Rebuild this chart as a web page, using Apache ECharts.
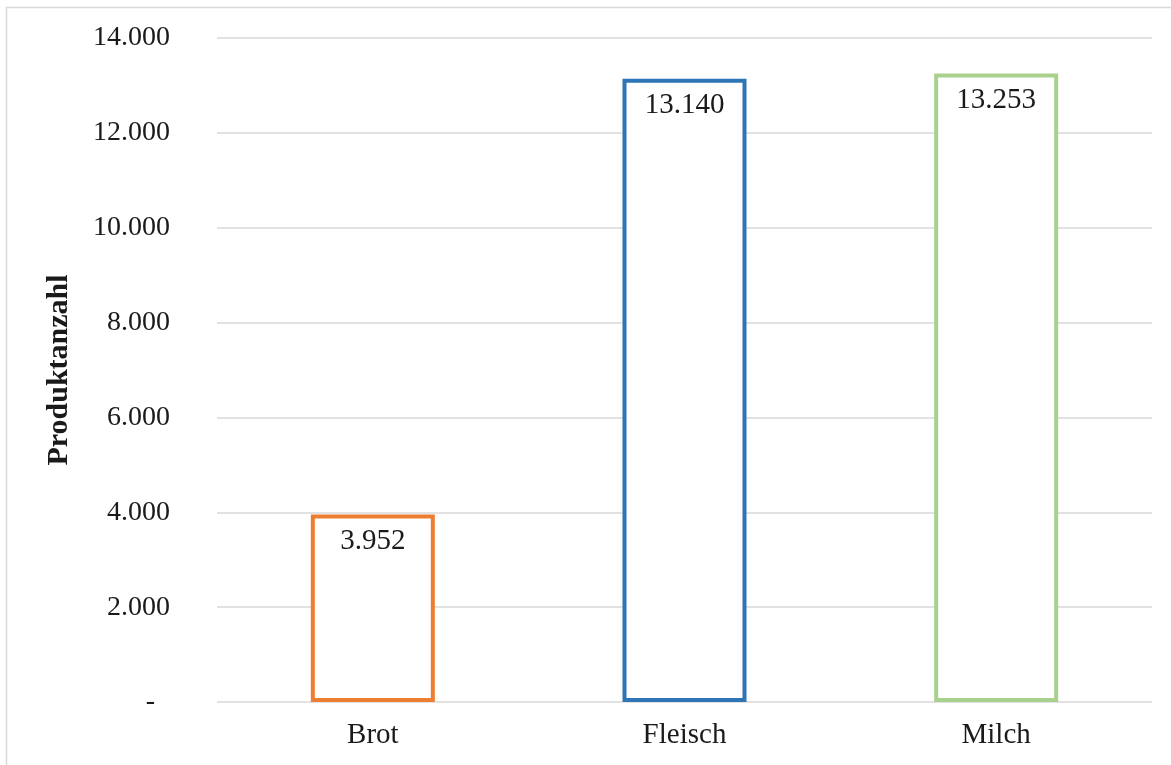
<!DOCTYPE html>
<html>
<head>
<meta charset="utf-8">
<script src="https://cdn.jsdelivr.net/npm/echarts@6/dist/echarts.min.js"></script>
<style>
  html, body { margin: 0; padding: 0; background: #fff; }
  #chart { width: 1171px; height: 765px; }
</style>
</head>
<body>
<div id="chart"></div>
<script>
// Product counts per category
const categories = ['Brot', 'Fleisch', 'Milch'];
const counts = [3952, 13140, 13253];
const barColors = ['#ED7D31', '#2E75B6', '#A9D18E'];
const axisTitle = 'Produktanzahl';

// German thousands separator, "-" for zero
function fmt(v) {
  return String(Math.round(v)).replace(/\B(?=(\d{3})+(?!\d))/g, '.');
}

const serif = '"Liberation Serif", "Times New Roman", serif';

const chart = echarts.init(document.getElementById('chart'), null, { renderer: 'canvas' });

chart.setOption({
  animation: false,
  backgroundColor: '#fff',
  graphic: [{
    type: 'rect',
    z: -10,
    shape: { x: 6.5, y: 7.5, width: 1300, height: 900 },
    style: { fill: 'none', stroke: '#D9D9D9', lineWidth: 1.5 }
  }],
  grid: { left: 217, right: 19, top: 38, bottom: 63 },
  xAxis: {
    type: 'category',
    data: categories,
    axisLine: { show: false },
    axisTick: { show: false },
    axisLabel: { color: '#1a1a1a', fontFamily: serif, fontSize: 29, margin: 19 }
  },
  yAxis: {
    type: 'value',
    min: 0,
    max: 14000,
    interval: 2000,
    name: axisTitle,
    nameLocation: 'middle',
    nameGap: 143,
    nameTextStyle: { color: '#1a1a1a', fontFamily: serif, fontSize: 30, fontWeight: 'bold' },
    axisLine: { show: false },
    axisTick: { show: false },
    splitLine: { lineStyle: { color: '#D9D9D9', width: 1.5 } },
    axisLabel: {
      color: '#1a1a1a',
      fontFamily: serif,
      fontSize: 28,
      margin: 47,
      formatter: v => (v === 0 ? '{z|-}' : fmt(v)),
      rich: { z: { fontFamily: serif, fontSize: 28, color: '#1a1a1a', padding: [0, 15, 0, 0] } }
    }
  },
  series: [{
    type: 'bar',
    barWidth: 124,
    data: counts.map((v, i) => ({
      value: v,
      itemStyle: { color: '#ffffff', borderColor: barColors[i], borderWidth: 4 }
    })),
    label: {
      show: true,
      position: 'insideTop',
      distance: 12,
      color: '#1a1a1a',
      fontFamily: serif,
      fontSize: 29,
      formatter: p => fmt(p.value)
    }
  }]
});
</script>
</body>
</html>
